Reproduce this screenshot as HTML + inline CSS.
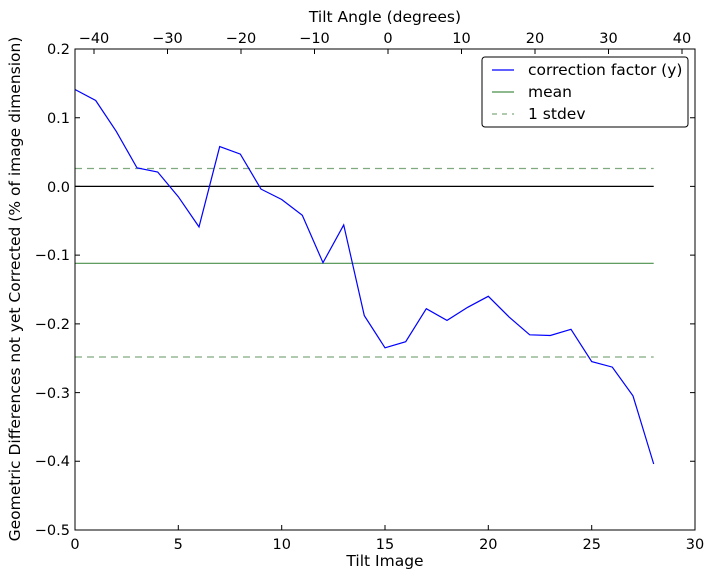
<!DOCTYPE html>
<html><head><style>body{margin:0;background:#fff}svg{display:block}text{font-family:"DejaVu Sans",sans-serif;font-size:14.5px;fill:#000}.lab{font-size:15.5px}.leg{font-size:15.5px}</style></head><body>
<svg width="714" height="579" viewBox="0 0 714 579">
<rect width="714" height="579" fill="#fff"/>
<g stroke-width="1.2">
<line x1="75" y1="186.4" x2="653.7" y2="186.4" stroke="#000"/>
<line x1="75" y1="263.3" x2="653.7" y2="263.3" stroke="#4a8f4a"/>
<line x1="75" y1="168.5" x2="653.7" y2="168.5" stroke="#7faa7f" stroke-dasharray="7,5"/>
<line x1="75" y1="357" x2="653.7" y2="357" stroke="#7faa7f" stroke-dasharray="7,5"/>
<polyline fill="none" stroke="#0000ff" points="75,89.5 95.7,100.5 116.3,131.4 137,167.9 157.7,172 178.3,196.7 199,226.9 219.7,146.6 240.3,154.1 261,189.1 281.7,199.5 302.3,215.3 323,262.7 343.7,224.9 364.3,315.6 385,347.8 405.7,341.7 426.3,308.7 447,320.4 467.7,307.3 488.3,296.3 509,316.9 529.7,334.8 550.3,335.5 571,329.3 591.7,361.6 612.3,367.1 633,395.9 653.7,464"/>
</g>
<rect x="75" y="49" width="620" height="481" fill="none" stroke="#000" stroke-width="1"/>
<g stroke="#000" stroke-width="1">
<path d="M75,530v-5M178.3,530v-5M281.7,530v-5M385,530v-5M488.3,530v-5M591.7,530v-5M695,530v-5"/>
<path d="M94,49v5M167.5,49v5M241,49v5M314.5,49v5M388,49v5M461.5,49v5M535,49v5M608.5,49v5M682,49v5"/>
<path d="M75,49h5M75,117.7h5M75,186.4h5M75,255.1h5M75,323.9h5M75,392.6h5M75,461.3h5M75,530h5"/>
<path d="M695,49h-5M695,117.7h-5M695,186.4h-5M695,255.1h-5M695,323.9h-5M695,392.6h-5M695,461.3h-5M695,530h-5"/>
</g>
<g text-anchor="middle">
<text x="75" y="549">0</text><text x="178.3" y="549">5</text><text x="281.7" y="549">10</text><text x="385" y="549">15</text><text x="488.3" y="549">20</text><text x="591.7" y="549">25</text><text x="695" y="549">30</text>
<text x="94" y="43">−40</text><text x="167.5" y="43">−30</text><text x="241" y="43">−20</text><text x="314.5" y="43">−10</text><text x="388" y="43">0</text><text x="461.5" y="43">10</text><text x="535" y="43">20</text><text x="608.5" y="43">30</text><text x="682" y="43">40</text>
<text class="lab" x="385" y="566">Tilt Image</text>
<text class="lab" x="385" y="22">Tilt Angle (degrees)</text>
</g>
<g text-anchor="end">
<text x="70" y="54">0.2</text><text x="70" y="123">0.1</text><text x="70" y="192">0.0</text><text x="70" y="260">−0.1</text><text x="70" y="329">−0.2</text><text x="70" y="398">−0.3</text><text x="70" y="466">−0.4</text><text x="70" y="535">−0.5</text>
</g>
<text class="lab" transform="translate(20,289) rotate(-90)" text-anchor="middle">Geometric Differences not yet Corrected (% of image dimension)</text>
<rect x="482" y="57" width="206" height="70" rx="3" fill="#fff" stroke="#000" stroke-width="1"/>
<line x1="492" y1="70" x2="514" y2="70" stroke="#0000ff" stroke-width="1.2"/>
<line x1="492" y1="92" x2="514" y2="92" stroke="#4a8f4a" stroke-width="1.2"/>
<line x1="492" y1="114" x2="514" y2="114" stroke="#7faa7f" stroke-width="1.2" stroke-dasharray="5,5"/>
<text class="leg" x="528" y="75">correction factor (y)</text>
<text class="leg" x="528" y="97">mean</text>
<text class="leg" x="528" y="119">1 stdev</text>
</svg>
</body></html>
